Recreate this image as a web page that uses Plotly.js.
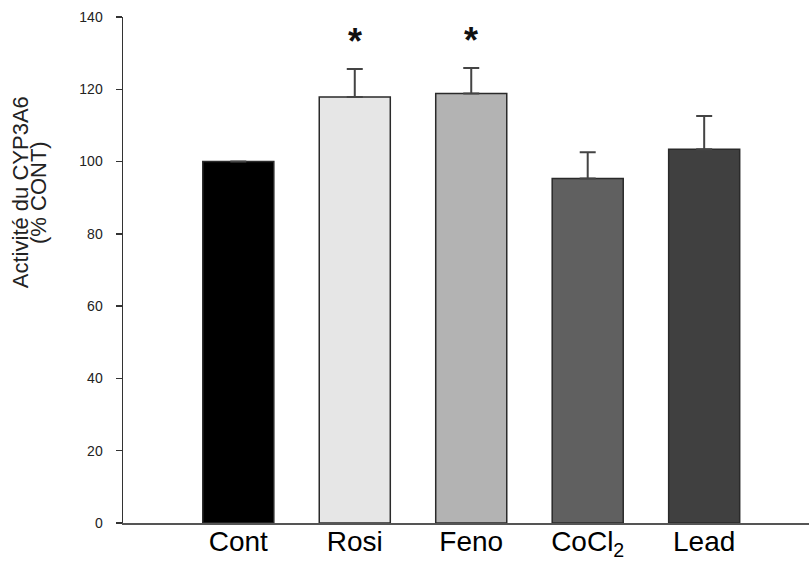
<!DOCTYPE html>
<html>
<head>
<meta charset="utf-8">
<script src="https://cdn.plot.ly/plotly-3.0.1.min.js"></script>
<style>html,body{margin:0;padding:0;background:#fff;}#chart{width:809px;height:561px;}</style>
</head>
<body>
<div id="chart"></div>
<script>
const categories = ["Cont", "Rosi", "Feno", "CoCl<sub>2</sub>", "Lead"];
const values = [100, 117.9, 118.8, 95.3, 103.4];
const errors = [null, 7.7, 7.1, 7.3, 9.2];
const colors = ["#000000", "#e6e6e6", "#b3b3b3", "#606060", "#404040"];
const significant = [false, true, true, false, false];
const yTicks = [0, 20, 40, 60, 80, 100, 120, 140];
const yTitleLines = ["Activité du CYP3A6", "(% CONT)"];

const trace = {
  type: "bar",
  x: categories,
  y: values,
  marker: {color: colors, line: {color: "#2a2a2a", width: 1.5}},
  error_y: {type: "data", array: errors, visible: true, symmetric: false,
    arrayminus: errors.map(e => (e == null ? null : 0)), color: "#444", thickness: 2, width: 8},
  hoverinfo: "none"
};

const FONT = "Arial, 'Liberation Sans', sans-serif";
const annotations = [];
categories.forEach((c, i) => {
  if (significant[i]) {
    annotations.push({x: c, y: values[i] + (errors[i] || 0) + 1.3, text: "<b>*</b>", showarrow: false,
      xref: "x", yref: "y", yanchor: "bottom",
      font: {family: FONT, size: 36, color: "#111"}});
  }
});
const titleX = [-0.150, -0.124];
yTitleLines.forEach((t, i) => {
  annotations.push({text: t, xref: "paper", yref: "paper", x: titleX[i], y: 0.654,
    xanchor: "center", yanchor: "middle", textangle: -90, showarrow: false,
    font: {family: FONT, size: 22, color: "#222"}});
});

const layout = {
  width: 809, height: 561,
  margin: {l: 123, r: 0, t: 17, b: 38},
  paper_bgcolor: "#fff", plot_bgcolor: "#fff",
  bargap: 0.39,
  showlegend: false,
  font: {family: FONT, color: "#222"},
  xaxis: {
    type: "category",
    range: [-0.99, 4.9],
    showline: true, linecolor: "#555", linewidth: 1.5,
    ticks: "", showgrid: false, zeroline: false,
    ticklabelstandoff: -7,
    tickfont: {size: 28, color: "#000"}
  },
  yaxis: {
    range: [0, 140],
    tickvals: yTicks,
    showline: true, linecolor: "#333", linewidth: 1.5,
    ticks: "outside", ticklen: 6, tickwidth: 1.5, tickcolor: "#333",
    ticklabelstandoff: 10,
    showgrid: false, zeroline: false,
    tickfont: {size: 14, color: "#222"}
  },
  annotations: annotations
};

Plotly.newPlot("chart", [trace], layout, {staticPlot: true, displayModeBar: false});
</script>
</body>
</html>
